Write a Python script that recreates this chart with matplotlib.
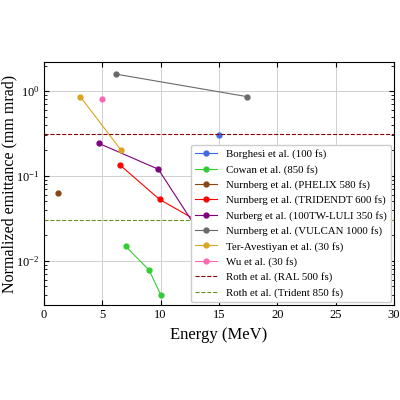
import matplotlib
matplotlib.use("Agg")
import matplotlib.pyplot as plt

plt.rcParams['font.family'] = ['Liberation Serif', 'DejaVu Serif']
plt.rcParams['mathtext.fontset'] = 'cm'

series = [
    ("Borghesi et al. (100 fs)", "royalblue", [15], [0.30]),
    ("Cowan et al. (850 fs)", "limegreen", [7, 9, 10], [0.0148, 0.0078, 0.0040]),
    ("Nurnberg et al. (PHELIX 580 fs)", "saddlebrown", [1.2], [0.0625]),
    ("Nurnberg et al. (TRIDENDT 600 fs)", "red", [6.5, 9.9, 13.5], [0.135, 0.053, 0.0277]),
    ("Nurberg et al. (100TW-LULI 350 fs)", "purple", [4.7, 9.8, 13.3], [0.242, 0.120, 0.0217]),
    ("Nurnberg et al. (VULCAN 1000 fs)", "dimgray", [6.2, 17.4], [1.58, 0.86]),
    ("Ter-Avestiyan et al. (30 fs)", "goldenrod", [3.1, 6.6], [0.86, 0.202]),
    ("Wu et al. (30 fs)", "hotpink", [5], [0.80]),
]
hlines = [
    ("Roth et al. (RAL 500 fs)", "darkred", 0.31),
    ("Roth et al. (Trident 850 fs)", "olivedrab", 0.030),
]

fig = plt.figure(figsize=(4, 4), dpi=100)
ax = fig.add_axes([0.11, 0.237, 0.875, 0.608])
for lab, c, x, y in series:
    ax.plot(x, y, '-o', color=c, label=lab, lw=0.8, ms=3.5)
for lab, c, y in hlines:
    ax.axhline(y, color=c, ls='--', lw=0.8, label=lab)
ax.set_yscale('log')
ax.set_xlim(0, 30)
ax.set_ylim(0.003, 2.2)
ax.grid(True, color='#d0d0d0', lw=0.7)
ax.tick_params(which='both', direction='in', top=True, right=True, labelsize=9, pad=3)
ax.set_xlabel('Energy (MeV)', fontsize=12)
ax.set_ylabel('Normalized emittance (mm mrad)', fontsize=11.5)
ax.yaxis.set_label_coords(-0.075, 0.5)
ax.legend(loc='lower right', fontsize=7.8, framealpha=1, borderaxespad=0.3)
fig.savefig('out.png', dpi=100)
